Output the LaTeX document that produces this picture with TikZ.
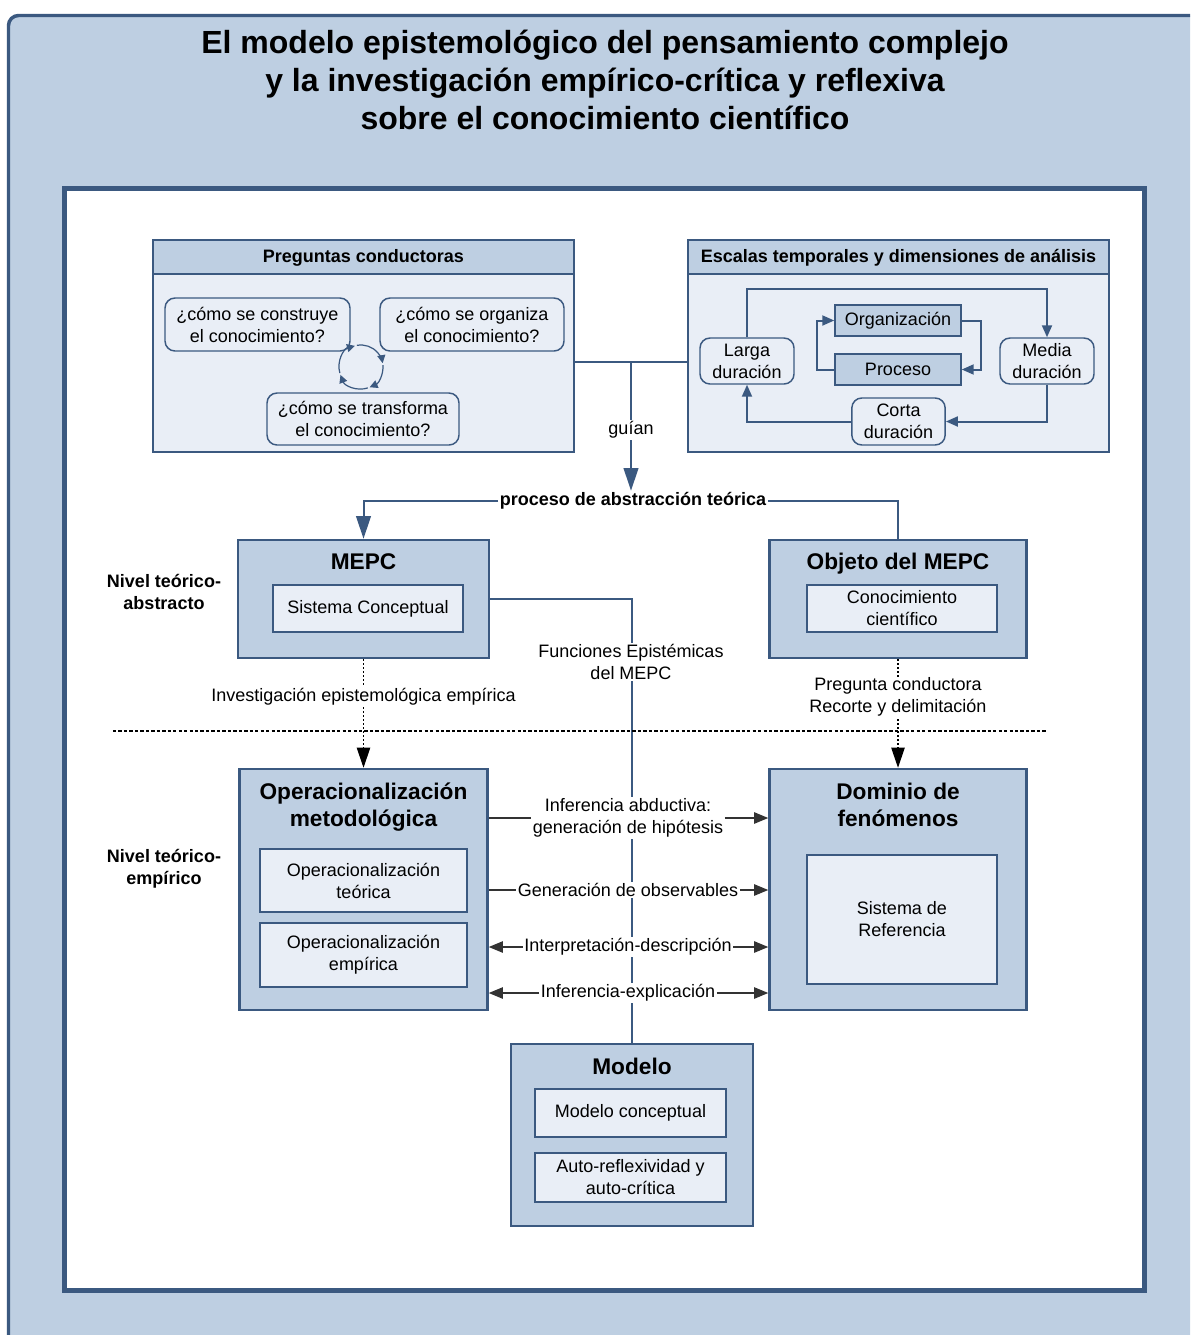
\documentclass[tikz,border=0pt]{standalone}
\usepackage{fontspec}
\setmainfont{Liberation Sans}
\usetikzlibrary{arrows.meta}

\definecolor{framecol}{RGB}{59,89,128}
\definecolor{midblue}{RGB}{190,207,226}
\definecolor{paleblue}{RGB}{233,238,246}
\newcommand{\txtsize}{\fontsize{13.5}{16.5}\selectfont}
\newcommand{\headsize}{\fontsize{17}{20.25}\selectfont}
\newcommand{\titlesize}{\fontsize{24}{28.5}\selectfont}

\tikzset{every picture/.style={line width=0.75pt}}
\tikzset{
  panel/.style={draw=framecol, line width=1.5pt, fill=paleblue, inner sep=0pt},
  panelhead/.style={draw=framecol, line width=1.5pt, fill=midblue, inner sep=0pt, font=\txtsize\bfseries},
  bigbox/.style={draw=framecol, line width=1.9pt, fill=midblue, inner sep=0pt},
  subbox/.style={draw=framecol, line width=1.1pt, fill=paleblue, inner sep=0pt, align=center, font=\txtsize},
  darkbox/.style={subbox, fill=midblue},
  qbox/.style={subbox, rounded corners=7.5pt},
  boxtitle/.style={font=\headsize\bfseries, align=center, inner sep=0pt},
  plaintext/.style={font=\txtsize, align=center, inner sep=1pt},
  boldtext/.style={font=\txtsize\bfseries, align=center, inner sep=1pt},
  linklabel/.style={plaintext, fill=white},
  blueline/.style={draw=framecol, line width=1.5pt},
  bigarrow/.style={blueline, -{Triangle[width=11pt,length=17pt]}},
  scalearrow/.style={blueline, -{Triangle[width=7.5pt,length=9pt]}},
  cyclearrow/.style={draw=framecol, line width=0.9pt, -{Triangle[width=6pt,length=6pt]}},
  dotarrow/.style={line width=0.9pt, dash pattern=on 1.5pt off 1.5pt, -{Triangle[width=10pt,length=15pt]}},
  flowline/.style={draw=black!80, line width=0.9pt},
  flowarrow/.style={flowline, -{Triangle[width=8.5pt,length=10.5pt]}},
}

\begin{document}
\begin{tikzpicture}[x=0.75pt,y=0.75pt,yscale=-1,xscale=1]
  \useasboundingbox (0,0) rectangle (1190,1335);
  \clip (0,0) rectangle (1190,1335);

  % frames and title
  \draw[draw=framecol, fill=midblue, line width=2.6pt, rounded corners=7.5pt] (8.5,15.5) rectangle (1210,1360);
  \node[font=\titlesize\bfseries, align=center] (title) at (605,80) {El modelo epistemológico del pensamiento complejo\\y la investigación empírico-crítica y reflexiva\\sobre el conocimiento científico};
  \draw[draw=framecol, fill=white, line width=3.75pt] (64.5,188.5) rectangle (1144.5,1290.5);

  % preguntas conductoras
  \node[panel, minimum width=315.75pt, minimum height=159pt] (preg) at (363.5,346) {};
  \node[panelhead, minimum width=315.75pt, minimum height=25.5pt, anchor=north] (preghead) at (preg.north) {};
  \node[boldtext] (pregtit) at (363.5,258) {Preguntas conductoras};
  \node[qbox, minimum width=138.75pt, minimum height=39.75pt] (qcons) at (257.5,324.5) {¿cómo se construye\\el conocimiento?};
  \node[qbox, minimum width=138pt, minimum height=39.75pt] (qorg) at (472,324.5) {¿cómo se organiza\\el conocimiento?};
  \node[qbox, minimum width=144pt, minimum height=39pt] (qtrans) at (363,419) {¿cómo se transforma\\el conocimiento?};
  \coordinate (cycle) at (361,367);
  \foreach \a/\b in {164/254, 259/350, 355/427, 432/519}
    \draw[cyclearrow] ([shift={(\a:22)}]cycle) arc[start angle=\a, end angle=\b, radius=22];

  % escalas temporales
  \node[panel, minimum width=315.75pt, minimum height=159pt] (esc) at (898.5,346) {};
  \node[panelhead, minimum width=315.75pt, minimum height=25.5pt, anchor=north] (eschead) at (esc.north) {};
  \node[boldtext] (esctit) at (898.5,258) {Escalas temporales y dimensiones de análisis};
  \node[qbox, minimum width=70.5pt, minimum height=34.5pt] (larga) at (747,361) {Larga\\duración};
  \node[qbox, minimum width=70.5pt, minimum height=34.5pt] (media) at (1047,361) {Media\\duración};
  \node[qbox, minimum width=70pt, minimum height=35.25pt] (corta) at (898.5,421.5) {Corta\\duración};
  \node[darkbox, minimum width=94.5pt, minimum height=23.25pt] (organ) at (898,320.5) {Organización};
  \node[darkbox, minimum width=94.5pt, minimum height=23.25pt] (proc) at (898,369.5) {Proceso};
  \draw[scalearrow] (larga.north) -- ++(0,-48) -| (media.north);
  \draw[scalearrow] (media.south) |- (corta.east);
  \draw[scalearrow] (corta.west) -| (larga.south);
  \draw[scalearrow] (organ.east) -- ++(19,0) |- (proc.east);
  \draw[scalearrow] (proc.west) -- ++(-17,0) |- (organ.west);

  % main boxes
  \node[bigbox, minimum width=188.25pt, minimum height=88.5pt] (mepc) at (363.5,599) {};
  \node[boxtitle] (mepctit) at (363.5,562) {MEPC};
  \node[subbox, minimum width=142.5pt, minimum height=35.25pt] (sconc) at (368,608.5) {Sistema Conceptual};

  \node[bigbox, minimum width=192.75pt, minimum height=88.5pt] (obj) at (898,599) {};
  \node[boxtitle] (objtit) at (898,564) {Objeto del MEPC};
  \node[subbox, minimum width=142.5pt, minimum height=35.25pt] (conoc) at (902,608.5) {Conocimiento\\científico};

  \node[bigbox, minimum width=186pt, minimum height=180.75pt] (op) at (363.5,889.5) {};
  \node[boxtitle] (optit) at (363.5,807.5) {Operacionalización\\metodológica};
  \node[subbox, minimum width=155.25pt, minimum height=47.25pt] (opteo) at (363.5,880.5) {Operacionalización\\teórica};
  \node[subbox, minimum width=155.25pt, minimum height=48pt] (opemp) at (363.5,955) {Operacionalización\\empírica};

  \node[bigbox, minimum width=192.75pt, minimum height=180.75pt] (dom) at (898,889.5) {};
  \node[boxtitle] (domtit) at (898,804.5) {Dominio de\\fenómenos};
  \node[subbox, minimum width=142.5pt, minimum height=96.75pt] (sref) at (902,919.5) {Sistema de\\Referencia};

  \node[bigbox, minimum width=181.5pt, minimum height=136.5pt] (modelo) at (632,1135) {};
  \node[boxtitle] (modtit) at (632,1066) {Modelo};
  \node[subbox, minimum width=143.25pt, minimum height=36pt] (mconc) at (630.5,1113) {Modelo conceptual};
  \node[subbox, minimum width=143.25pt, minimum height=36.75pt] (autor) at (630.5,1177.5) {Auto-reflexividad y\\auto-crítica};

  % guian and abstraction
  \coordinate (guide) at (631,362);
  \draw[blueline] (preg.east |- guide) -- (esc.west |- guide);
  \node[boldtext] (abst) at (633,501) {proceso de abstracción teórica};
  \draw[bigarrow] (guide) -- node[linklabel, pos=0.53] {guían} (guide |- abst.north);
  \draw[bigarrow] (abst.west) -| (mepc.north);
  \draw[blueline] (abst.east) -| (obj.north);

  % funciones epistemicas
  \draw[blueline] (mepc.east) -| (modelo.north);
  \node[linklabel] (fun) at (631,662) {Funciones Epistémicas\\del MEPC};

  % levels
  \draw[line width=1.6pt, dash pattern=on 2.5pt off 1.6pt] (113,731) -- (1047,731);
  \draw[dotarrow] (mepc.south) -- node[linklabel, pos=0.35] {Investigación epistemológica empírica} (op.north);
  \draw[dotarrow] (obj.south) -- node[linklabel, pos=0.35] {Pregunta conductora\\Recorte y delimitación} (dom.north);
  \node[boldtext] (nivabs) at (164,592) {Nivel teórico-\\abstracto};
  \node[boldtext] (nivemp) at (164,869) {Nivel teórico-\\empírico};

  % relations
  \node[linklabel] (abduc) at (628,818) {Inferencia abductiva:\\generación de hipótesis};
  \node[linklabel] (observ) at (628,890) {Generación de observables};
  \node[linklabel] (interp) at (628,947) {Interpretación-descripción};
  \node[linklabel] (explic) at (628,993) {Inferencia-explicación};
  \draw[flowline] (op.east |- abduc) -- (abduc.west);
  \draw[flowarrow] (abduc.east) -- (dom.west |- abduc);
  \draw[flowline] (op.east |- observ) -- (observ.west);
  \draw[flowarrow] (observ.east) -- (dom.west |- observ);
  \draw[flowarrow] (interp.west) -- (op.east |- interp);
  \draw[flowarrow] (interp.east) -- (dom.west |- interp);
  \draw[flowarrow] (explic.west) -- (op.east |- explic);
  \draw[flowarrow] (explic.east) -- (dom.west |- explic);
\end{tikzpicture}
\end{document}
